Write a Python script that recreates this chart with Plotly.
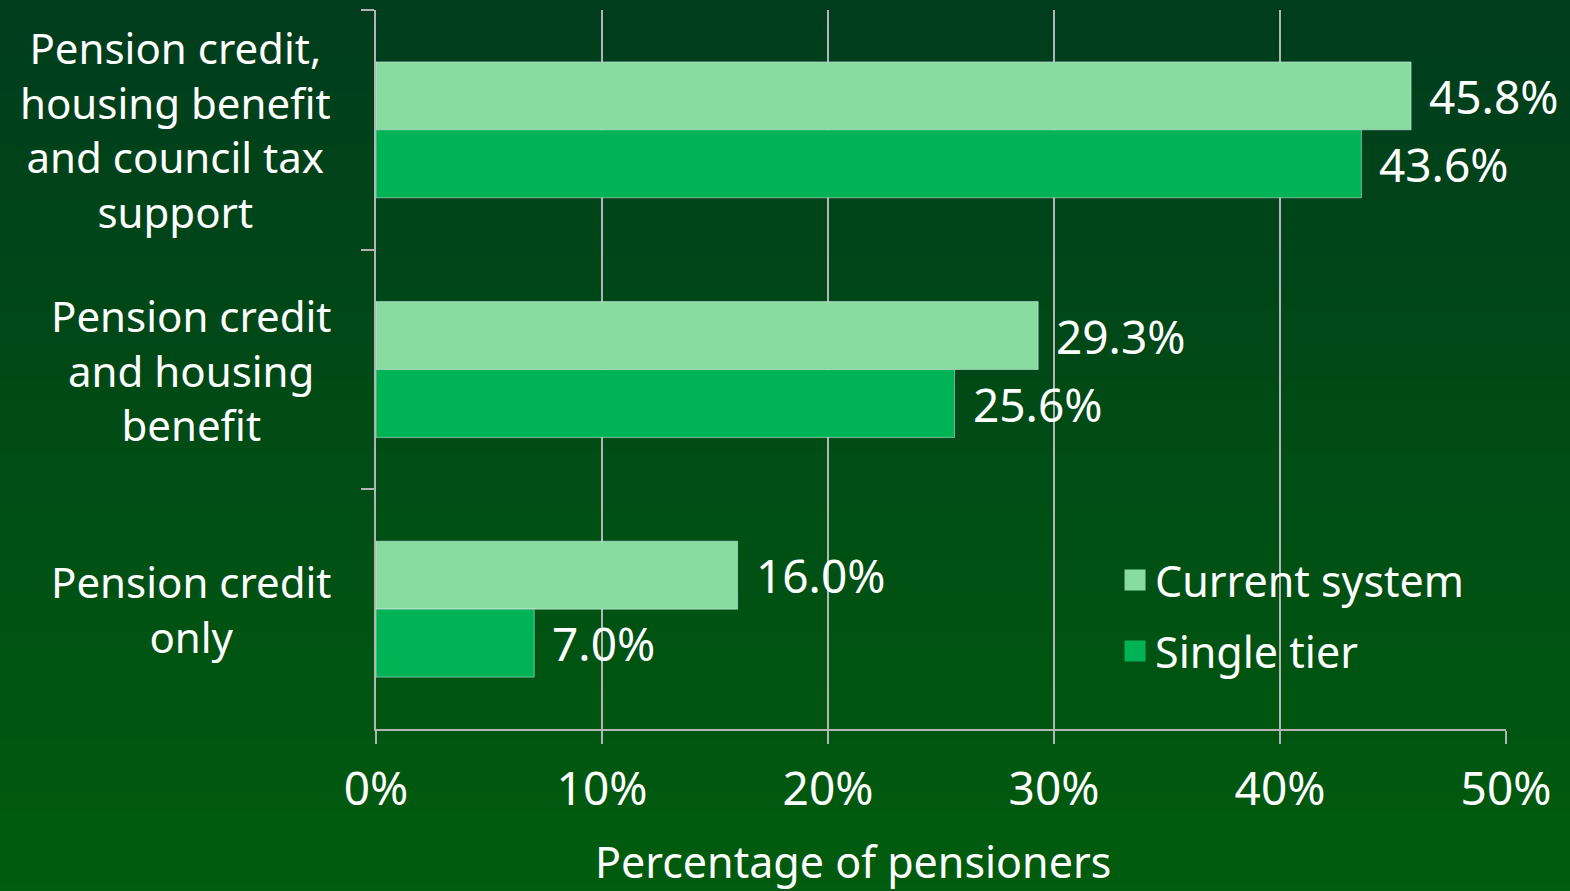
import plotly.graph_objects as go

categories = ["Pension credit,<br>housing benefit<br>and council tax<br>support",
              "Pension credit<br>and housing<br>benefit",
              "Pension credit<br>only"]
cat_keys = ["A", "B", "C"]
current_system = [45.8, 29.3, 16.0]
single_tier = [43.6, 25.6, 7.0]
series_names = ["Current system", "Single tier"]
x_ticks = [0, 10, 20, 30, 40, 50]

LIGHT = "#88dca0"
DARK = "#00b354"
GRID = "#b4b4b4"
FONT = "Noto Sans"
TXT = 43
CAT = 42
NUM = 46

fig = go.Figure()
fig.add_trace(go.Bar(y=cat_keys, x=current_system, orientation="h", marker_color=LIGHT,
                     name=series_names[0], showlegend=False))
fig.add_trace(go.Bar(y=cat_keys, x=single_tier, orientation="h", marker_color=DARK,
                     name=series_names[1], showlegend=False))

# legend entries with larger squares
for nm, col in zip(series_names, [LIGHT, DARK]):
    fig.add_trace(go.Scatter(x=[None], y=[None], mode="markers", name=nm, legendgroup=nm,
                             marker=dict(symbol="square", size=16, color=col,
                                         line=dict(color=col, width=5))))

# background gradient bands
top = (0, 58, 30)
bot = (0, 96, 12)
N = 60
shapes = []
for i in range(N):
    t = i / (N - 1)
    c = tuple(round(top[k] + (bot[k] - top[k]) * t) for k in range(3))
    shapes.append(dict(type="rect", xref="paper", yref="paper", layer="below",
                       x0=-1, x1=2, y0=1.1 - (i + 1) * 1.5 / N - 0.01, y1=1.1 - i * 1.5 / N + 0.01,
                       fillcolor="rgb(%d,%d,%d)" % c, line_width=0))

annotations = []
# category labels
for key, lab in zip(cat_keys, categories):
    annotations.append(dict(x=0, xref="paper", xshift=-43, y=key, yref="y", text=lab,
                            xanchor="right", yanchor="middle", align="center", showarrow=False,
                            font=dict(family=FONT, size=CAT, color="white")))
# value labels
for vals, off in [(current_system, -0.5), (single_tier, 0.5)]:
    for i, v in enumerate(vals):
        annotations.append(dict(x=v, y=i, yref="y", xref="x", text="%.1f%%" % v,
                                xanchor="left", yanchor="middle", yshift=-off * 68, xshift=16,
                                showarrow=False, font=dict(family=FONT, size=NUM, color="white")))
annotations.append(dict(x=(853 - 376) / 1130, xref="paper", y=-(861 - 729) / 719, yref="paper",
                        text="Percentage of pensioners",
                        showarrow=False, xanchor="center", yanchor="middle",
                        font=dict(family=FONT, size=TXT, color="white")))

fig.update_layout(
    width=1570, height=891,
    margin=dict(l=376, r=64, t=10, b=162),
    paper_bgcolor="rgb(0,78,22)",
    plot_bgcolor="rgba(0,0,0,0)",
    barmode="group", bargap=0.433, bargroupgap=0,
    shapes=shapes, annotations=annotations,
    showlegend=True,
    legend=dict(x=0.654, y=0.255, xanchor="left", yanchor="top", bgcolor="rgba(0,0,0,0)",
                font=dict(family=FONT, size=TXT, color="white"),
                traceorder="grouped", tracegroupgap=12),
    font=dict(family=FONT, color="white"),
)
fig.update_xaxes(range=[0, 50], tickvals=x_ticks, ticktext=["%d%%" % v for v in x_ticks],
                 showgrid=True, gridcolor=GRID, gridwidth=1.5, zeroline=False,
                 showline=True, linecolor=GRID, linewidth=1.5,
                 ticks="outside", ticklen=13, tickcolor=GRID, tickwidth=1.5,
                 ticklabelstandoff=6,
                 tickfont=dict(family=FONT, size=NUM, color="white"))
fig.update_yaxes(autorange="reversed", type="category", tickson="boundaries",
                 showgrid=False, showline=True, linecolor=GRID, linewidth=1.5,
                 ticks="outside", ticklen=13, tickcolor=GRID, tickwidth=1.5,
                 showticklabels=False)

fig.write_html("out.html", config={"displayModeBar": False},
               post_script="document.body.style.margin='0';")
